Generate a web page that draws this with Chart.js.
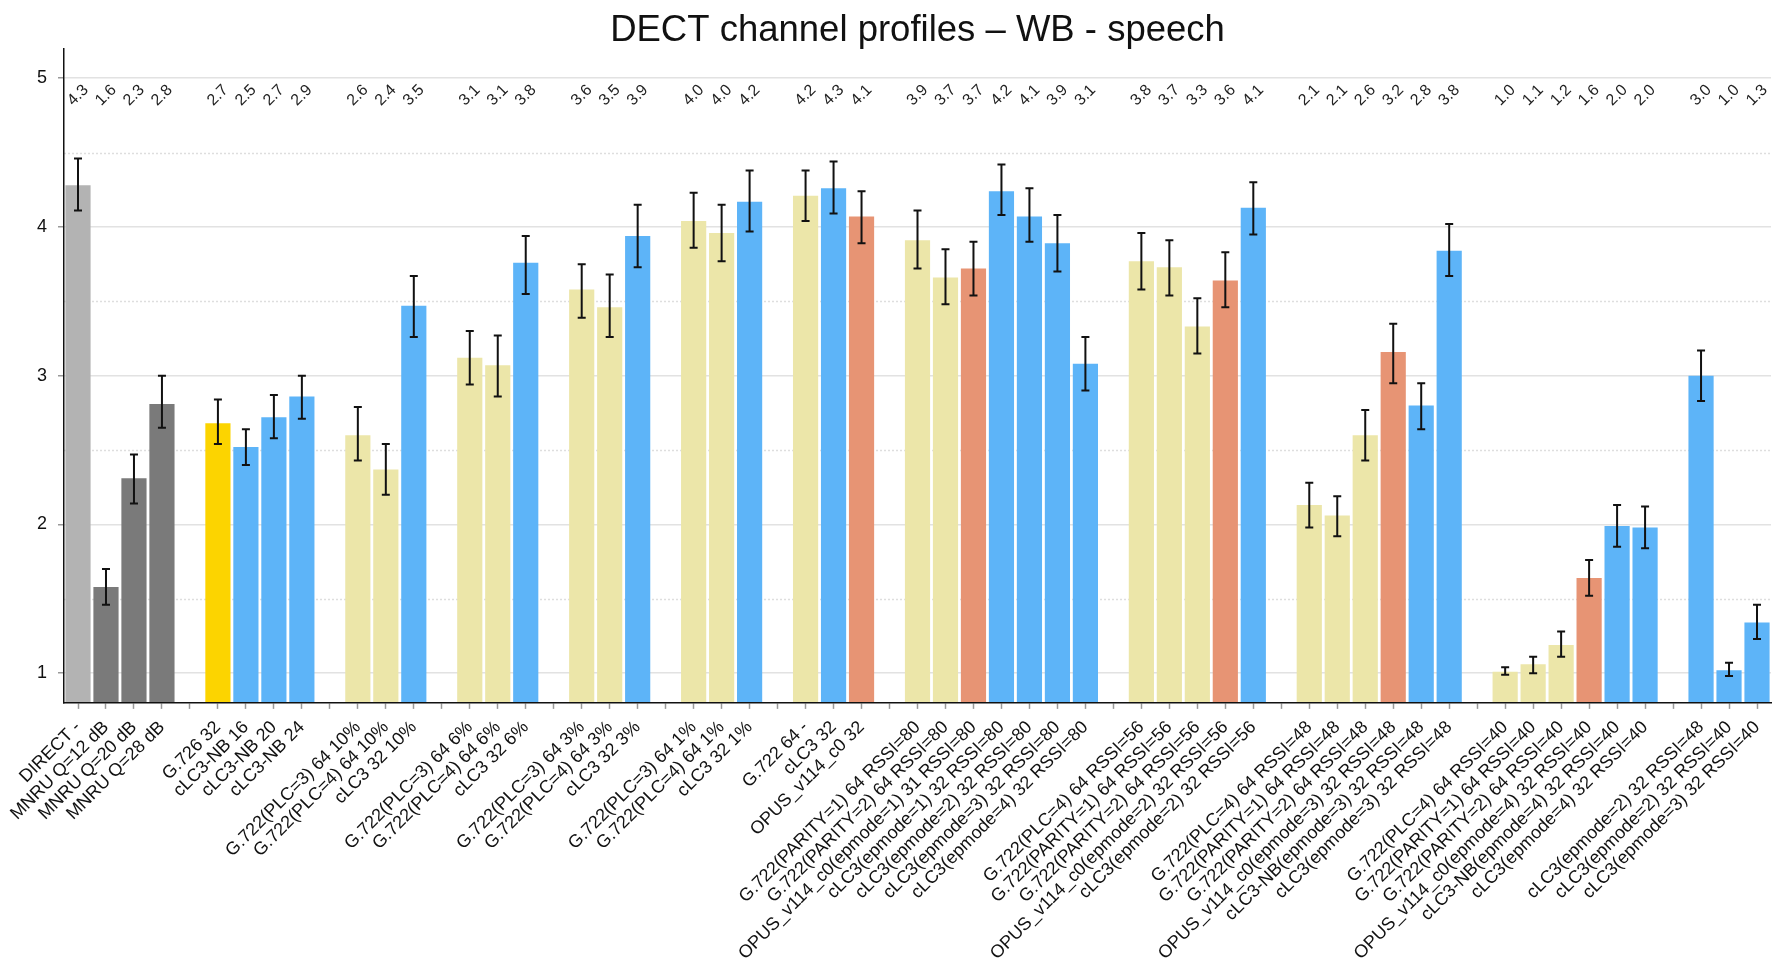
<!DOCTYPE html>
<html>
<head>
<meta charset="utf-8">
<script src="https://cdn.jsdelivr.net/npm/chart.js@4.4.1/dist/chart.umd.min.js"></script>
<style>
  html, body { margin: 0; padding: 0; background: #fff; }
</style>
</head>
<body>
<canvas id="mos-chart" width="1773" height="963"></canvas>
<script>
// conditions, '' marks the empty slot between two groups
const categories = [
  'DIRECT -', 'MNRU Q=12 dB', 'MNRU Q=20 dB', 'MNRU Q=28 dB', '',
  'G.726 32', 'cLC3-NB 16', 'cLC3-NB 20', 'cLC3-NB 24', '',
  'G.722(PLC=3) 64 10%', 'G.722(PLC=4) 64 10%', 'cLC3 32 10%', '',
  'G.722(PLC=3) 64 6%', 'G.722(PLC=4) 64 6%', 'cLC3 32 6%', '',
  'G.722(PLC=3) 64 3%', 'G.722(PLC=4) 64 3%', 'cLC3 32 3%', '',
  'G.722(PLC=3) 64 1%', 'G.722(PLC=4) 64 1%', 'cLC3 32 1%', '',
  'G.722 64 -', 'cLC3 32', 'OPUS_v114_c0 32', '',
  'G.722(PARITY=1) 64 RSSI=80', 'G.722(PARITY=2) 64 RSSI=80', 'OPUS_v114_c0(epmode=1) 31 RSSI=80',
  'cLC3(epmode=1) 32 RSSI=80', 'cLC3(epmode=2) 32 RSSI=80', 'cLC3(epmode=3) 32 RSSI=80', 'cLC3(epmode=4) 32 RSSI=80', '',
  'G.722(PLC=4) 64 RSSI=56', 'G.722(PARITY=1) 64 RSSI=56', 'G.722(PARITY=2) 64 RSSI=56',
  'OPUS_v114_c0(epmode=2) 32 RSSI=56', 'cLC3(epmode=2) 32 RSSI=56', '',
  'G.722(PLC=4) 64 RSSI=48', 'G.722(PARITY=1) 64 RSSI=48', 'G.722(PARITY=2) 64 RSSI=48',
  'OPUS_v114_c0(epmode=3) 32 RSSI=48', 'cLC3-NB(epmode=3) 32 RSSI=48', 'cLC3(epmode=3) 32 RSSI=48', '',
  'G.722(PLC=4) 64 RSSI=40', 'G.722(PARITY=1) 64 RSSI=40', 'G.722(PARITY=2) 64 RSSI=40',
  'OPUS_v114_c0(epmode=4) 32 RSSI=40', 'cLC3-NB(epmode=4) 32 RSSI=40', 'cLC3(epmode=4) 32 RSSI=40', '',
  'cLC3(epmode=2) 32 RSSI=48', 'cLC3(epmode=2) 32 RSSI=40', 'cLC3(epmode=3) 32 RSSI=40'
];

const means = [
  4.28, 1.58, 2.31, 2.81, null,
  2.68, 2.52, 2.72, 2.86, null,
  2.60, 2.37, 3.47, null,
  3.12, 3.07, 3.76, null,
  3.58, 3.46, 3.94, null,
  4.04, 3.96, 4.17, null,
  4.21, 4.26, 4.07, null,
  3.91, 3.66, 3.72, 4.24, 4.07, 3.89, 3.08, null,
  3.77, 3.73, 3.33, 3.64, 4.13, null,
  2.13, 2.06, 2.60, 3.16, 2.80, 3.84, null,
  1.01, 1.06, 1.19, 1.64, 1.99, 1.98, null,
  3.00, 1.02, 1.34
];

const ciLow = [
  4.11, 1.46, 2.14, 2.65, null,
  2.54, 2.40, 2.58, 2.71, null,
  2.43, 2.20, 3.26, null,
  2.94, 2.86, 3.55, null,
  3.39, 3.26, 3.73, null,
  3.86, 3.77, 3.97, null,
  4.04, 4.09, 3.89, null,
  3.72, 3.48, 3.54, 4.08, 3.90, 3.70, 2.90, null,
  3.58, 3.54, 3.15, 3.46, 3.95, null,
  1.98, 1.92, 2.43, 2.95, 2.64, 3.67, null,
  0.99, 1.00, 1.11, 1.52, 1.85, 1.84, null,
  2.83, 0.98, 1.23
];

const ciHigh = [
  4.46, 1.70, 2.47, 3.00, null,
  2.84, 2.64, 2.87, 3.00, null,
  2.79, 2.54, 3.67, null,
  3.30, 3.27, 3.94, null,
  3.75, 3.68, 4.15, null,
  4.23, 4.15, 4.38, null,
  4.38, 4.44, 4.24, null,
  4.11, 3.85, 3.90, 4.42, 4.26, 4.08, 3.26, null,
  3.96, 3.91, 3.52, 3.83, 4.30, null,
  2.28, 2.19, 2.77, 3.35, 2.95, 4.02, null,
  1.04, 1.11, 1.28, 1.76, 2.13, 2.12, null,
  3.17, 1.07, 1.46
];

const minorLines = [1.5, 2.5, 3.5, 4.5];

const FONT = '"Liberation Sans", Arial, sans-serif';

function codecColor(name) {
  if (name.startsWith('DIRECT')) return '#b3b3b3';
  if (name.startsWith('MNRU')) return '#7a7a7a';
  if (name.startsWith('G.726')) return '#fcd400';
  if (name.startsWith('OPUS')) return '#e79474';
  if (name.startsWith('G.722')) return '#ece6a9';
  return '#5db4f8';
}

// dotted half-step grid lines
const minorGrid = {
  id: 'minorGrid',
  beforeDatasetsDraw(chart) {
    const { ctx, chartArea, scales: { y } } = chart;
    ctx.save();
    ctx.strokeStyle = '#dedede';
    ctx.lineWidth = 1.5;
    ctx.setLineDash([2, 2]);
    minorLines.forEach(v => {
      const py = Math.round(y.getPixelForValue(v)) + 0.5;
      ctx.beginPath();
      ctx.moveTo(chartArea.left, py);
      ctx.lineTo(chartArea.right, py);
      ctx.stroke();
    });
    ctx.restore();
  }
};

// confidence intervals and rotated value labels
const errorBars = {
  id: 'errorBars',
  afterDatasetsDraw(chart) {
    const { ctx, scales: { y } } = chart;
    const meta = chart.getDatasetMeta(0);
    ctx.save();
    ctx.strokeStyle = '#111';
    ctx.lineWidth = 2;
    meta.data.forEach((bar, i) => {
      if (means[i] == null) return;
      const cx = bar.x;
      const top = y.getPixelForValue(ciHigh[i]);
      const bot = y.getPixelForValue(ciLow[i]);
      ctx.beginPath();
      ctx.moveTo(cx, top); ctx.lineTo(cx, bot);
      ctx.moveTo(cx - 4, top); ctx.lineTo(cx + 4, top);
      ctx.moveTo(cx - 4, bot); ctx.lineTo(cx + 4, bot);
      ctx.stroke();
    });

    ctx.fillStyle = '#222';
    ctx.font = '16px ' + FONT;
    ctx.textAlign = 'center';
    ctx.textBaseline = 'middle';
    const ly = y.getPixelForValue(4.885);
    meta.data.forEach((bar, i) => {
      if (means[i] == null) return;
      ctx.save();
      ctx.translate(bar.x, ly);
      ctx.rotate(-Math.PI / 4);
      ctx.fillText(means[i].toFixed(1), 0, 0);
      ctx.restore();
    });
    ctx.restore();
  }
};

const ctx = document.getElementById('mos-chart');

new Chart(ctx, {
  type: 'bar',
  data: {
    labels: categories,
    datasets: [{
      data: means,
      backgroundColor: categories.map(codecColor),
      barPercentage: 0.9,
      categoryPercentage: 1.0
    }]
  },
  options: {
    responsive: false,
    animation: false,
    layout: { padding: { left: 26, right: 2, top: 0, bottom: -9 } },
    plugins: {
      legend: { display: false },
      tooltip: { enabled: false },
      title: {
        display: true,
        fullSize: false,
        text: 'DECT channel profiles – WB - speech',
        color: '#111',
        font: { family: FONT, size: 36.5, weight: 'normal', lineHeight: 1.0 },
        padding: { top: 13, bottom: -1 }
      }
    },
    scales: {
      x: {
        offset: true,
        afterFit(scale) { scale.paddingRight = 0; scale.paddingLeft = 0; },
        ticks: {
          autoSkip: false,
          minRotation: 45,
          maxRotation: 45,
          color: '#111',
          padding: 8,
          font: { family: FONT, size: 18 }
        },
        grid: { drawOnChartArea: false, offset: false, tickLength: 6, tickColor: '#999', tickWidth: 1.5 },
        border: { color: '#111', width: 1.5, z: 1 }
      },
      y: {
        min: 0.8,
        max: 5.2,
        ticks: {
          stepSize: 1,
          includeBounds: false,
          color: '#111',
          padding: 11,
          font: { family: FONT, size: 18 }
        },
        grid: { color: '#e2e2e2', lineWidth: 1.5, tickLength: 6, tickColor: '#999' },
        border: { color: '#111', width: 1.5, z: 1 }
      }
    }
  },
  plugins: [minorGrid, errorBars]
});
</script>
</body>
</html>
